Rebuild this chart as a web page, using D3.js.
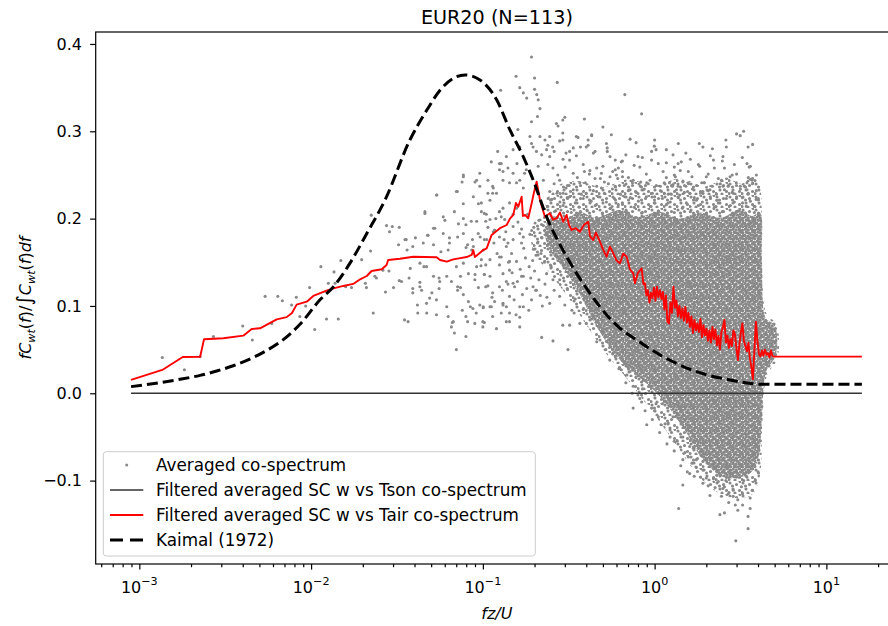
<!DOCTYPE html>
<html>
<head>
<meta charset="utf-8">
<script src="https://cdn.jsdelivr.net/npm/d3@7"></script>
<style>
  body { margin: 0; background: #fff; }
  svg text { font-family: "DejaVu Sans", "Noto Sans", sans-serif; fill: #000; }
</style>
</head>
<body>
<svg id="chart" width="888" height="626"></svg>
<script>
// ---------- chart text ----------
const chartTitle = "EUR20 (N=113)";
const xTickExponents = [-3, -2, -1, 0, 1];
const yTickValues = [-0.1, 0.0, 0.1, 0.2, 0.3, 0.4];
const legendLabels = [
  "Averaged co-spectrum",
  "Filtered averaged SC w vs Tson co-spectrum",
  "Filtered averaged SC w vs Tair co-spectrum",
  "Kaimal (1972)"
];

// ---------- averaged co-spectrum: scattered points [fz/U, normalised co-spectrum] ----------
const coSpectrumPoints = [
  [0.00136,0.041],[0.00183,0.027],[0.00226,0.042],[0.0027,0.065],[0.0040,0.077],[0.00455,0.061],[0.0054,0.111],
  [0.0064,0.111],[0.0068,0.106],[0.0059,0.080],[0.0077,0.101],[0.0082,0.110],[0.0086,0.088],[0.0093,0.100],
  [0.0098,0.121],[0.0105,0.073],[0.0114,0.145],[0.0123,0.085],[0.0126,0.126],[0.0136,0.139],[0.0144,0.085],
  [0.0138,0.126],[0.0149,0.152],[0.0159,0.122],[0.0172,0.121],[0.0197,0.153],[0.0207,0.126],[0.0210,0.121],
  [0.0222,0.163],[0.0224,0.204],[0.0235,0.134],[0.0240,0.132],[0.0262,0.141],[0.0230,0.092],[0.0271,0.116],
  [0.0275,0.192],[0.0284,0.140],[0.0286,0.185],[0.0297,0.191],[0.0302,0.121],[0.0326,0.190],[0.0323,0.170],
  [0.0326,0.129],[0.0336,0.128],[0.0352,0.176],[0.0362,0.164],[0.0367,0.082],[0.0372,0.132],[0.0391,0.168],
  [0.0391,0.120],[0.0416,0.101],[0.0430,0.127],[0.0440,0.118],[0.0454,0.145],[0.0460,0.206],[0.0471,0.092],
  [0.0476,0.181],[0.0490,0.109],[0.0516,0.170],[0.0516,0.189],[0.0537,0.107],[0.0556,0.120],[0.0561,0.128],
  [0.0570,0.162],[0.0588,0.183],[0.0601,0.198],[0.0628,0.088],[0.0639,0.172],[0.0656,0.076],[0.0664,0.081],
  [0.0683,0.069],[0.0701,0.050],[0.0713,0.118],[0.0721,0.194],[0.0741,0.121],[0.0759,0.095],[0.0769,0.217],
  [0.0797,0.065],[0.0797,0.193],[0.0815,0.082],[0.0824,0.137],[0.0846,0.099],[0.0875,0.097],[0.0915,0.092],
  [0.0942,0.217],[0.0942,0.121],[0.0975,0.146],[0.1005,0.098],[0.1020,0.081],[0.1047,0.205],[0.1053,0.176],
  [0.1070,0.123],[0.0965,0.179],[0.0870,0.176],[0.0799,0.167],[0.0673,0.082],
  [0.077,0.250],[0.096,0.252],[0.125,0.263],[0.114,0.237],[0.110,0.221],[0.090,0.242],[0.071,0.231],
  [0.054,0.227],[0.046,0.208],[0.0588,0.202],[0.0683,0.208],[0.077,0.200],[0.0856,0.197],[0.098,0.208],
  [0.104,0.197],[0.0525,0.189],[0.048,0.181],[0.0358,0.176],[0.0405,0.178],[0.045,0.172],[0.0639,0.178],
  [0.0713,0.179],[0.077,0.183],[0.0628,0.164],[0.0815,0.170],[0.0861,0.164],[0.1005,0.164],[0.077,0.149],
  [0.0701,0.145],[0.098,0.153],[0.104,0.147],[0.0378,0.143],[0.043,0.149],[0.047,0.145],[0.0516,0.134],
  [0.0556,0.132],[0.0616,0.134],[0.0656,0.128],[0.0741,0.134],[0.0898,0.130],[0.102,0.136],[0.043,0.122],
  [0.0391,0.115],[0.0505,0.115],[0.0713,0.122],[0.077,0.113],[0.104,0.122],[0.114,0.115],[0.125,0.122],
  [0.047,0.103],[0.0616,0.099],[0.0824,0.105],[0.096,0.101],[0.112,0.099],[0.0418,0.092],[0.0537,0.090],
  [0.0797,0.088],[0.0898,0.080],[0.114,0.088],[0.137,0.082],[0.035,0.084],[0.100,0.076],[0.164,0.076],
  [0.143,0.092],[0.131,0.103],[0.143,0.111],[0.137,0.128],[0.153,0.122],[0.168,0.134],[0.143,0.141],
  [0.157,0.151],[0.125,0.156],[0.137,0.168],[0.150,0.176],[0.164,0.183],[0.125,0.179],[0.117,0.187],
  [0.134,0.199],[0.150,0.191],[0.125,0.208],[0.157,0.212],[0.120,0.229],[0.143,0.241],[0.164,0.244],
  [0.179,0.256],
  [0.192,0.385],[0.156,0.363],[0.200,0.361],[0.127,0.347],[0.164,0.350],[0.172,0.344],[0.200,0.348],
  [0.206,0.342],[0.180,0.338],[0.210,0.336],[0.215,0.326],[0.208,0.317],[0.271,0.356],[0.300,0.316],
  [0.268,0.309],[0.274,0.306],[0.390,0.314],[0.128,0.263],[0.112,0.265],[0.077,0.248],[0.0757,0.242],
  [0.0537,0.227],[0.0701,0.231],[0.125,0.256],[0.131,0.244],[0.150,0.252],[0.158,0.263],[0.164,0.282],
  [0.188,0.294],[0.196,0.282],[0.215,0.294],[0.245,0.294],[0.255,0.282],[0.292,0.290],[0.305,0.275],
  [0.350,0.294],[0.400,0.282],[0.430,0.296],[0.440,0.275],[0.137,0.271],[0.114,0.229],
  [0.671,0.342],[0.840,0.320],[0.192,0.311],[0.292,0.313],[0.500,0.305],[0.160,0.302],[0.292,0.298],
  [0.358,0.293],[0.560,0.296],[0.720,0.291],[0.780,0.287],[0.960,0.277],[1.82,0.286],[2.17,0.280],
  [3.00,0.297],[3.30,0.300],[3.15,0.295],[3.50,0.282],[3.45,0.263],[3.55,0.259],[3.00,0.251],[2.55,0.258],
  [2.75,0.248],[2.68,0.237],[3.45,0.241],[3.45,0.233],[3.50,0.228],[3.90,0.222],[3.00,0.225],[1.94,0.241],
  [2.10,0.233],[1.60,0.229],[1.46,0.242],[1.37,0.237],[1.25,0.228],[1.08,0.237],[1.12,0.254],[0.96,0.267],
  [0.82,0.259],[0.80,0.271],[0.68,0.273],[0.59,0.267],[0.59,0.256],[0.64,0.265],[0.50,0.260],[0.51,0.242],
  [0.46,0.258],[0.42,0.255],[0.35,0.272],[0.32,0.267],[0.41,0.290],[0.37,0.282],[0.32,0.277],[0.28,0.289],
  [0.26,0.277],[0.245,0.271],[0.235,0.279],[0.23,0.290],[0.192,0.286],[0.205,0.277],[0.22,0.273],
  [0.15,0.279],[0.14,0.258],[0.131,0.254],[0.122,0.277],[0.107,0.244],[0.092,0.244],[0.088,0.225],
  [0.096,0.237],[0.107,0.229],[0.115,0.235],[0.157,0.241],[0.175,0.252],[0.172,0.235],[0.21,0.260],
  [0.225,0.244],[0.098,0.218],[0.102,0.206],[0.11,0.199],[0.092,0.197],[0.094,0.183],[0.102,0.176],
  [0.088,0.168],[0.115,0.185],[0.128,0.202],[0.131,0.212],[0.143,0.218],[0.14,0.172],[0.168,0.172],
  [0.172,0.179],[0.128,0.156],[0.11,0.153],[0.143,0.151],
  [0.256,0.258],[0.28,0.244],[0.305,0.235],[0.336,0.252],[0.367,0.241],[0.40,0.229],[0.45,0.246],
  [0.49,0.235],[0.55,0.248],[0.59,0.237],[0.67,0.225],[0.75,0.244],[0.86,0.233],[0.94,0.244],[1.0,0.225],
  [1.22,0.241],[1.40,0.227],[1.52,0.237],[1.75,0.221],[1.91,0.231],[2.3,0.221],[2.5,0.237],[2.87,0.229],
  [3.25,0.218],[3.7,0.244],[3.8,0.214],[0.32,0.225],[0.27,0.229],[0.24,0.223],[0.39,0.254],[0.49,0.252],
  [0.65,0.254],[0.72,0.233],[1.14,0.229],[1.32,0.248],[2.0,0.248],[2.45,0.244],[3.15,0.237],
  [1.0,0.290],[1.17,0.279],[1.37,0.263],[1.57,0.254],[1.83,0.260],[2.2,0.267],[2.5,0.271],[2.6,0.290],
  [1.91,0.282],[1.52,0.275],[1.28,0.273],[1.02,0.279],[1.17,0.264],[1.43,0.265],[1.41,0.255],[3.62,0.245],
  [1.88,0.241],[1.57,0.241],[1.28,0.239],[0.90,0.241],[0.83,0.242],[0.65,0.248],[0.61,0.246],[0.57,0.254],
  [0.45,0.277],[0.53,0.277],[0.53,0.281],[0.41,0.284],[0.43,0.295],
  [0.090,0.136],[0.1005,0.099],[0.117,0.105],[0.12,0.074],[0.137,0.099],[0.143,0.082],[0.164,0.099],
  [0.164,0.087],[0.22,0.064],[0.256,0.060],[0.313,0.050],[0.292,0.078],[0.32,0.078],[0.367,0.080],
  [0.40,0.080],[0.33,0.095],[0.245,0.103],[0.192,0.107],[0.205,0.118],[0.28,0.111],[0.46,0.059],
  [0.548,0.038],[0.58,0.065],[0.59,0.042],[0.67,0.034],[0.64,0.027],[0.69,0.021],[0.72,0.025],[0.75,0.008],
  [0.78,0.019],[0.86,0.015],[0.94,0.008],[0.75,-0.017],[0.82,-0.006],[0.84,-0.010],[0.90,-0.036],
  [1.05,-0.027],[1.11,-0.012],[1.09,-0.036],[1.20,-0.034],[1.23,-0.042],[1.28,-0.027],[1.30,-0.055],
  [1.46,-0.050],[1.60,-0.061],[1.57,-0.073],[1.68,-0.063],[1.75,-0.076],[1.65,-0.080],[1.91,-0.078],
  [2.1,-0.076],[1.46,-0.105],[1.91,-0.103],[2.0,-0.097],[2.3,-0.094],[2.35,-0.101],[2.5,-0.109],
  [2.55,-0.107],[2.68,-0.115],[2.87,-0.111],[3.2,-0.107],[3.25,-0.115],[3.0,-0.096],[2.75,-0.092],
  [3.45,-0.096],[3.6,-0.084],[3.7,-0.111],[3.6,-0.120],[2.87,-0.118],[3.05,-0.122],[2.1,-0.117],
  [2.4,-0.139],[2.55,-0.137],[3.05,-0.134],[3.5,-0.141],[1.38,-0.132],[2.97,-0.169],[3.5,-0.155],
  [1.02,-0.012],[0.96,-0.017],[1.23,-0.050],[1.6,-0.092],[1.91,-0.088],[2.62,-0.084],[3.9,-0.061],
  [1.46,-0.076],
  [0.092,0.145],[0.102,0.136],[0.131,0.137],[0.150,0.126],[0.172,0.134],[0.196,0.122],[0.235,0.137],
  [0.256,0.130],[0.11,0.099],[0.131,0.101],[0.172,0.099],[0.1,0.082],
  // band just above the dense core
  [0.239,0.214],[0.266,0.209],[0.293,0.215],[0.327,0.207],[0.364,0.213],[0.405,0.209],[0.451,0.215],
  [0.496,0.206],[0.553,0.212],[0.615,0.216],[0.685,0.208],[0.762,0.213],[0.848,0.207],[0.944,0.214],
  [1.051,0.209],[1.170,0.216],[1.302,0.207],[1.450,0.212],[1.614,0.208],[1.797,0.215],[2.000,0.206],
  [2.227,0.213],[2.479,0.208],[2.759,0.215],[3.072,0.209],[3.420,0.214],[3.807,0.207],
  [0.252,0.222],[0.281,0.219],[0.310,0.224],[0.345,0.218],[0.384,0.223],[0.427,0.220],[0.470,0.225],
  [0.524,0.219],[0.583,0.223],[0.649,0.218],[0.722,0.224],[0.804,0.220],[0.895,0.225],[0.996,0.218],
  [1.109,0.223],[1.234,0.219],[1.374,0.224],[1.530,0.218],[1.703,0.224],[1.896,0.219],[2.110,0.225],
  [2.349,0.218],[2.615,0.223],[2.911,0.219],[3.241,0.224],[3.608,0.220],[4.017,0.223],
  [0.245,0.231],[0.293,0.229],[0.336,0.233],[0.374,0.228],[0.440,0.232],[0.510,0.229],[0.568,0.234],
  [0.632,0.228],[0.703,0.232],[0.783,0.230],[0.871,0.234],[0.970,0.229],[1.08,0.232],[1.20,0.228],
  [1.34,0.233],[1.49,0.230],[1.66,0.234],[1.85,0.229],[2.05,0.232],[2.29,0.228],[2.55,0.233],[2.83,0.230],
  [3.16,0.234],[3.51,0.229],[3.91,0.232],
  [0.260,0.240],[0.318,0.238],[0.395,0.241],[0.460,0.237],[0.538,0.240],[0.666,0.238],[0.743,0.241],
  [0.826,0.237],[0.919,0.240],[1.023,0.238],[1.139,0.241],[1.268,0.237],[1.575,0.240],[1.753,0.238],
  [1.948,0.241],[2.168,0.237],[2.413,0.240],[2.687,0.238],[2.99,0.241],[3.33,0.237],[3.71,0.240],
  [0.273,0.250],[0.355,0.247],[0.417,0.251],[0.483,0.246],[0.599,0.250],[0.704,0.247],[0.895,0.251],
  [1.170,0.247],[1.302,0.250],[1.65,0.248],[2.05,0.251],[2.349,0.246],[2.83,0.250],[3.51,0.247],[3.91,0.250],
  [0.239,0.262],[0.301,0.259],[0.384,0.262],[0.615,0.258],[0.760,0.261],[1.05,0.263],[1.302,0.259],
  [1.797,0.262],[2.227,0.258],[2.911,0.262],[3.608,0.260],
  [0.293,0.268],[0.550,0.271],[0.649,0.266],[0.848,0.270],[1.614,0.268],[2.110,0.272],[2.479,0.266],
  [3.241,0.270],[0.239,0.284],[0.336,0.281],[0.524,0.286],[0.996,0.283],[1.374,0.286],[2.615,0.282],[3.72,0.285],
  // left flank of the cloud
  [0.107,0.190],[0.116,0.172],[0.125,0.147],[0.136,0.185],[0.147,0.160],[0.160,0.196],[0.173,0.166],
  [0.188,0.182],[0.204,0.158],[0.221,0.178],[0.110,0.134],[0.121,0.160],[0.130,0.118],[0.141,0.150],
  [0.152,0.107],[0.165,0.142],[0.180,0.120],[0.195,0.152],[0.212,0.130],[0.228,0.150],[0.113,0.110],
  [0.128,0.092],[0.140,0.125],[0.156,0.090],[0.170,0.113],[0.185,0.095],[0.200,0.140],[0.216,0.112],
  [0.230,0.125],[0.119,0.200],[0.133,0.176],[0.150,0.205],[0.168,0.188],[0.182,0.205],[0.198,0.190],
  [0.212,0.198],[0.225,0.192],[0.186,0.145],[0.197,0.165],[0.208,0.172],[0.218,0.160],[0.177,0.155],
  [0.159,0.128],[0.148,0.138],[0.190,0.132],[0.203,0.118],[0.222,0.100],[0.236,0.110],
  [0.239,0.170],[0.266,0.158],[0.293,0.148],[0.327,0.135],[0.364,0.124],[0.405,0.110],[0.451,0.096],
  [0.250,0.145],[0.28,0.130],[0.31,0.120],[0.345,0.108],[0.384,0.096],[0.43,0.085],[0.26,0.118],
  [0.30,0.101],[0.34,0.092],[0.5,0.070],[0.55,0.058],[0.6,0.050],[0.245,0.190],[0.255,0.175],
  // lower flank
  [0.52,0.050],[0.57,0.045],[0.62,0.028],[0.68,0.012],[0.74,0.000],[0.80,-0.002],[0.88,-0.020],
  [0.97,-0.030],[1.07,-0.045],[1.18,-0.058],[1.30,-0.066],[1.42,-0.083],[1.55,-0.090],[1.70,-0.095],
  [1.85,-0.096],[2.05,-0.106],[2.25,-0.108],[2.45,-0.118],[2.7,-0.125],[2.95,-0.128],[3.25,-0.128],
  [3.6,-0.132],[3.85,-0.100],[4.0,-0.090],[0.70,0.030],[0.85,0.005],[1.0,-0.020],[1.15,-0.035],
  [1.35,-0.055],[1.5,-0.068],[1.75,-0.085],[2.2,-0.098],[2.6,-0.100],[3.3,-0.100]
];

// Outline of the well-populated part of the co-spectrum cloud [fz/U, value]
const coSpectrumHalo = [
  [0.22,0.205],[0.26,0.235],[0.35,0.243],[0.5,0.236],[0.7,0.245],[1.0,0.238],[1.4,0.246],[2.0,0.237],
  [2.6,0.247],[3.2,0.240],[3.8,0.250],[4.1,0.238],
  [4.2,0.15],[4.5,0.09],[5.1,0.08],[5.2,0.04],[4.5,0.02],[4.25,-0.03],[4.05,-0.10],
  [3.6,-0.118],[2.9,-0.12],[2.4,-0.115],[1.8,-0.095],[1.4,-0.065],[1.0,-0.025],[0.7,0.015],[0.5,0.05],
  [0.38,0.085],[0.3,0.115],[0.24,0.14],[0.2,0.16],[0.19,0.19]
];
// Outline of the densest part of the cloud [fz/U, value]
const coSpectrumCore = [
  [0.2298,0.190],[0.26,0.203],[0.30,0.199],[0.367,0.208],[0.45,0.201],[0.628,0.210],[0.8,0.202],
  [1.073,0.208],[1.4,0.200],[1.835,0.207],[2.4,0.201],[3.136,0.210],[3.7,0.203],[4.10,0.207],
  [4.213,0.153],[4.445,0.086],[5.013,0.078],[5.08,0.044],[4.445,0.024],[4.213,-0.031],
  [3.994,-0.076],[3.586,-0.092],[2.934,-0.097],[2.498,-0.096],[1.910,-0.076],[1.461,-0.039],[1.031,0.000],
  [0.628,0.038],[0.461,0.076],[0.367,0.113],[0.3005,0.141],[0.2458,0.164],[0.2298,0.181]
];

// ---------- filtered averaged SC w vs Tson ----------
const tsonF = [0.000895, 16.09];
const tsonV = [0.0, 0.0];

// ---------- filtered averaged SC w vs Tair ----------
const tairF = [
  0.000895,0.00136,0.00179,0.00226,0.00238,0.00308,0.00403,0.00451,0.00504,0.00631,0.00721,0.00774,
  0.00824,0.00943,0.0103,0.0123,0.0135,0.0154,0.0176,0.0193,0.0211,0.0225,0.0258,0.0275,0.0281,0.0329,
  0.0393,0.0538,0.0563,0.0616,0.0673,0.0805,0.0861,0.0879,0.0899,0.1005,0.1052,0.1125,0.1258,0.1376,
  0.1438,0.1503,0.1558,0.1607,0.1682,0.1711,0.1758,0.1837,0.1924,0.1984,0.2056,0.2150,0.2298,0.2458,
  0.2559,0.2689,0.2811,0.2938,0.3075,0.3170,0.3288,0.3482,0.3674,0.3878,0.4107,0.4201,0.4391,0.4552,
  0.4803,0.5000,0.5255,0.5494,0.5741,0.6009,0.6281,0.6565,0.6871,0.7182,0.7508,0.7681,0.7995,0.8402,
  0.8607,
  0.878,0.896,0.914,0.933,0.952,0.971,0.991,1.011,1.031,1.052,1.074,1.095,1.118,1.141,1.164,1.187,1.211,
  1.236,1.261,1.287,1.313,1.339,1.367,1.394,1.423,1.452,1.481,1.511,1.542,1.573,1.605,1.638,1.671,1.705,
  1.740,1.775,1.811,1.848,1.886,1.924,1.963,2.003,2.044,2.085,2.128,2.171,2.215,2.259,2.305,2.352,2.400,
  2.448,2.498,2.549,2.601,2.653,2.707,2.762,2.818,2.875,2.934,2.993,3.054,3.116,3.180,3.244,3.310,3.377,
  3.445,3.516,3.587,3.660,3.734,3.811,3.888,3.967,4.048,4.130,4.214,4.299,4.387,4.476,4.566,4.659,4.754,
  4.851,4.950,5.050,16.09
];
const tairV = [
  0.0153,0.0267,0.0416,0.0419,0.0618,0.0630,0.0660,0.0736,0.0744,0.0847,0.0872,0.0920,
  0.1015,0.1049,0.1114,0.1175,0.1202,0.1229,0.1252,0.1305,0.1343,0.1400,0.1420,0.1469,0.1526,0.1541,
  0.1564,0.1557,0.1526,0.1507,0.1534,0.1560,0.1584,0.1640,0.1560,0.1640,0.1660,0.1813,0.1890,0.1927,
  0.2000,0.2042,0.2180,0.2137,0.2251,0.2030,0.2042,0.2004,0.2176,0.2300,0.2423,0.2213,0.2022,0.2061,
  0.1990,0.2004,0.2070,0.1965,0.2042,0.1930,0.1870,0.1890,0.1850,0.1930,0.1965,0.1800,0.1755,0.1840,
  0.1736,0.1650,0.1564,0.1680,0.1603,0.1520,0.1489,0.1600,0.1564,0.1420,0.1374,0.1260,0.1380,0.1430,
  0.1250,
  0.126,0.112,0.118,0.104,0.115,0.109,0.121,0.106,0.122,0.110,0.118,0.108,0.116,0.096,0.112,0.082,0.080,
  0.104,0.092,0.122,0.098,0.106,0.088,0.100,0.086,0.097,0.083,0.099,0.081,0.092,0.076,0.088,0.069,0.084,
  0.072,0.080,0.070,0.085,0.064,0.078,0.066,0.074,0.060,0.072,0.058,0.076,0.062,0.073,0.055,0.066,0.050,
  0.070,0.076,0.084,0.058,0.066,0.052,0.062,0.054,0.072,0.068,0.052,0.038,0.056,0.070,0.080,0.060,0.054,
  0.048,0.058,0.040,0.030,0.016,0.050,0.082,0.060,0.045,0.042,0.049,0.043,0.050,0.044,0.046,0.041,0.049,
  0.043,0.042,0.042,0.042
];

// ---------- Kaimal (1972) reference co-spectrum ----------
const kaimalF = [
  0.000895,0.001725,0.00226,0.00282,0.00352,0.00461,0.00551,0.00689,0.00862,0.01127,0.0135,0.01684,
  0.0211,0.0269,0.0376,0.0471,0.0563,0.0673,0.0787,0.0962,0.1203,0.1438,0.1718,0.1965,0.2351,0.3075,
  0.4019,0.5370,0.6133,0.7857,1.122,1.756,2.744,3.915,4.24,16.09
];
const kaimalV = [
  0.0076,0.0160,0.0205,0.0255,0.0315,0.0410,0.0490,0.0615,0.0790,0.1070,0.1220,0.1490,
  0.1830,0.2210,0.2900,0.3240,0.3470,0.3607,0.3645,0.3588,0.3360,0.3015,0.2710,0.2440,0.2022,0.1564,
  0.1200,0.0877,0.0763,0.0610,0.0419,0.0247,0.0153,0.0106,0.0103,0.0103
];

// ---------- layout ----------
const svg = d3.select("#chart");
const plot = { left: 95.7, top: 32, right: 898.1, bottom: 564 };
const FONT = 16;
const LEGEND_FONT = 16.8;
const POINT_GREY = "#888888";

const x = d3.scaleLog()
  .domain([Math.pow(10, -3.254), Math.pow(10, 1.4175)])
  .range([plot.left, plot.right]);
const y = d3.scaleLinear()
  .domain([-0.1955, 0.4137])
  .range([plot.bottom, plot.top]);

const defs = svg.append("defs");
defs.append("clipPath").attr("id", "plotClip")
  .append("rect")
  .attr("x", plot.left).attr("y", plot.top)
  .attr("width", plot.right - plot.left).attr("height", plot.bottom - plot.top);

// dot textures used to shade the crowded parts of the scatter cloud
const addDotPattern = (id, size, r, dots) => {
  const p = defs.append("pattern").attr("id", id)
    .attr("patternUnits", "userSpaceOnUse")
    .attr("width", size).attr("height", size);
  dots.forEach(([cx, cy]) => p.append("circle")
    .attr("cx", cx).attr("cy", cy).attr("r", r).attr("fill", POINT_GREY));
};
addDotPattern("cloudSparse", 13, 1.55,
  [[2,2],[8.5,3.5],[5,8],[11.5,9.5],[1,11.5],[7,12],[12,0.5],[4.5,5]]);
addDotPattern("cloudDense", 12, 1.7, [
  [1,1],[4.2,2],[7.3,0.8],[10.4,2.2],[2.3,4.3],[5.4,5.2],[8.6,4.1],[11.5,5.4],
  [0.8,7.4],[4,8.3],[7.2,7.1],[10.2,8.4],[2.2,10.5],[5.6,11.3],[8.5,10.2],[11.3,11.4]
]);

const g = svg.append("g").attr("clip-path", "url(#plotClip)");

const outline = d3.line().x(d => x(d[0])).y(d => y(d[1])).curve(d3.curveCatmullRomClosed.alpha(0.5));

// averaged co-spectrum: crowded region, dense core, then individual points
g.append("path").datum(coSpectrumHalo).attr("d", outline).attr("fill", "url(#cloudSparse)");
g.append("path").datum(coSpectrumCore).attr("d", outline).attr("fill", "url(#cloudDense)");

g.append("g").selectAll("circle")
  .data(coSpectrumPoints)
  .join("circle")
  .attr("cx", d => x(d[0]))
  .attr("cy", d => y(d[1]))
  .attr("r", 1.55)
  .attr("fill", POINT_GREY);

const lineOf = (fs, vs, curve) => d3.line()
  .x((d, i) => x(fs[i])).y((d, i) => y(vs[i]))
  .curve(curve || d3.curveLinear)(fs);

g.append("path").attr("d", lineOf(tsonF, tsonV))
  .attr("fill", "none").attr("stroke", "#333").attr("stroke-width", 1.6);

g.append("path").attr("d", lineOf(tairF, tairV))
  .attr("fill", "none").attr("stroke", "#ff0000").attr("stroke-width", 1.9)
  .attr("stroke-linejoin", "round");

g.append("path").attr("d", lineOf(kaimalF, kaimalV, d3.curveMonotoneX))
  .attr("fill", "none").attr("stroke", "#000").attr("stroke-width", 3)
  .attr("stroke-dasharray", "11,5");

// ---------- axes ----------
const majorX = xTickExponents.map(e => Math.pow(10, e));
const minorX = [];
for (let e = -4; e <= 1; e++) {
  for (let m = 2; m <= 9; m++) {
    const v = m * Math.pow(10, e);
    if (v >= x.domain()[0] && v <= x.domain()[1]) minorX.push(v);
  }
}

const xMajorAxis = svg.append("g").attr("transform", `translate(0,${plot.bottom})`)
  .call(d3.axisBottom(x).tickValues(majorX).tickSize(5.6).tickFormat(""));
const xMinorAxis = svg.append("g").attr("transform", `translate(0,${plot.bottom})`)
  .call(d3.axisBottom(x).tickValues(minorX).tickSize(3.2).tickFormat(""));
const yAxis = svg.append("g").attr("transform", `translate(${plot.left},0)`)
  .call(d3.axisLeft(y).tickValues(yTickValues).tickSize(5.6).tickFormat(""));
[xMajorAxis, xMinorAxis, yAxis].forEach(a => {
  a.select(".domain").remove();
  a.selectAll(".tick line").attr("stroke", "#000").attr("stroke-width", 1.2);
});

// x tick labels as powers of ten
xTickExponents.forEach(e => {
  const t = svg.append("text")
    .attr("x", x(Math.pow(10, e)))
    .attr("y", 592.5)
    .attr("text-anchor", "middle")
    .attr("font-size", FONT);
  t.append("tspan").text("10");
  t.append("tspan").attr("dy", -7.5).attr("font-size", FONT * 0.7)
    .text(e < 0 ? "\u2212" + Math.abs(e) : String(e));
});

// y tick labels
yTickValues.forEach(v => {
  svg.append("text")
    .attr("x", 82)
    .attr("y", y(v) + 5.8)
    .attr("text-anchor", "end")
    .attr("font-size", FONT)
    .text(v < 0 ? "\u2212" + Math.abs(v).toFixed(1) : v.toFixed(1));
});

// spines
svg.append("rect")
  .attr("x", plot.left).attr("y", plot.top)
  .attr("width", plot.right - plot.left).attr("height", plot.bottom - plot.top)
  .attr("fill", "none").attr("stroke", "#000").attr("stroke-width", 1.2);

// title
svg.append("text")
  .attr("x", (plot.left + plot.right) / 2)
  .attr("y", 24)
  .attr("text-anchor", "middle")
  .attr("font-size", 19.2)
  .text(chartTitle);

// x label
svg.append("text")
  .attr("x", (plot.left + plot.right) / 2)
  .attr("y", 619)
  .attr("text-anchor", "middle")
  .attr("font-size", FONT)
  .attr("font-style", "italic")
  .text("fz/U");

// y label: fC_wt(f)/∫C_wt(f)df
const yl = svg.append("text")
  .attr("transform", `translate(31,${(plot.top + plot.bottom) / 2}) rotate(-90)`)
  .attr("text-anchor", "middle")
  .attr("font-size", FONT);
const part = (txt, opts = {}) => {
  const s = yl.append("tspan").text(txt);
  s.attr("font-style", opts.upright ? "normal" : "italic");
  if (opts.size) s.attr("font-size", opts.size);
  if (opts.dy) s.attr("dy", opts.dy);
  return s;
};
part("fC");
part("wt", { size: FONT * 0.7, dy: 3.5 });
part("(", { upright: true, dy: -3.5 });
part("f");
part(")/", { upright: true });
part("\u222B", { upright: true, size: FONT * 1.25 });
part("C");
part("wt", { size: FONT * 0.7, dy: 3.5 });
part("(", { upright: true, dy: -3.5 });
part("f");
part(")", { upright: true });
part("df");

// ---------- legend ----------
const lg = svg.append("g");
lg.append("rect")
  .attr("x", 103.3).attr("y", 451.7)
  .attr("width", 432).attr("height", 104.3)
  .attr("rx", 3)
  .attr("fill", "#fff").attr("fill-opacity", 0.8)
  .attr("stroke", "#cccccc").attr("stroke-width", 1);

const rowY = [465, 490, 515, 540];
lg.append("circle").attr("cx", 126.7).attr("cy", rowY[0]).attr("r", 1.5).attr("fill", POINT_GREY);
lg.append("line").attr("x1", 110).attr("x2", 143.3).attr("y1", rowY[1]).attr("y2", rowY[1])
  .attr("stroke", "#333").attr("stroke-width", 1.6);
lg.append("line").attr("x1", 110).attr("x2", 143.3).attr("y1", rowY[2]).attr("y2", rowY[2])
  .attr("stroke", "#ff0000").attr("stroke-width", 1.9);
lg.append("line").attr("x1", 110).attr("x2", 143.3).attr("y1", rowY[3]).attr("y2", rowY[3])
  .attr("stroke", "#000").attr("stroke-width", 3).attr("stroke-dasharray", "13,7");

legendLabels.forEach((lab, i) => {
  lg.append("text")
    .attr("x", 156)
    .attr("y", rowY[i] + 5.9)
    .attr("font-size", LEGEND_FONT)
    .text(lab);
});
</script>
</body>
</html>
